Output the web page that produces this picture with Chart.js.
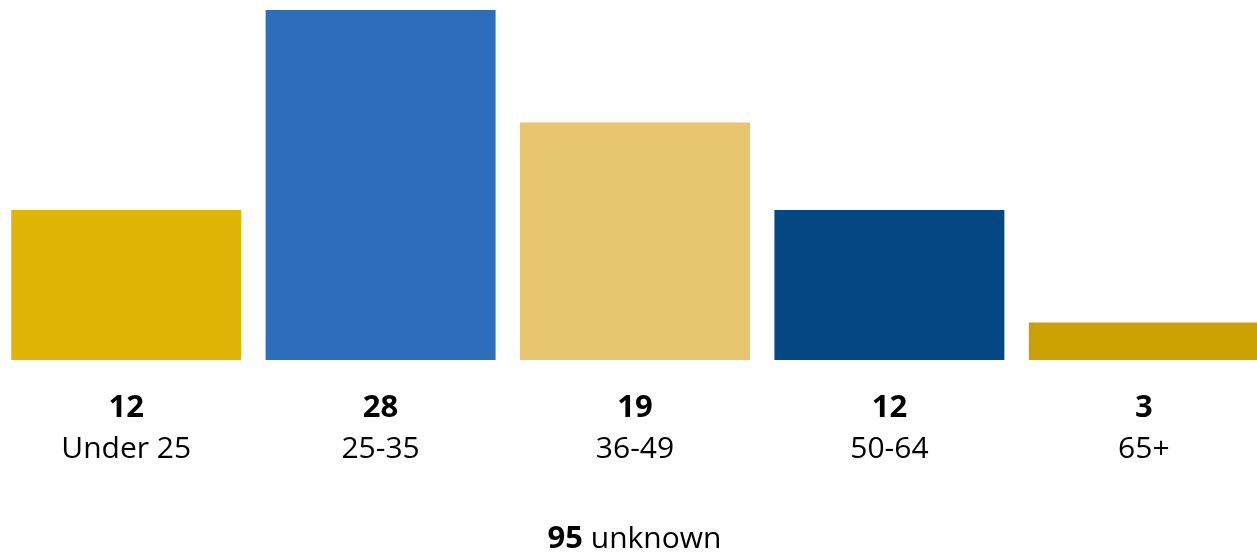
<!DOCTYPE html>
<html>
<head>
<meta charset="utf-8">
<script src="https://cdn.jsdelivr.net/npm/chart.js@4"></script>
<style>
  html, body { margin: 0; padding: 0; background: #fff; overflow: hidden; }
  #wrap { position: absolute; left: -1px; top: 0; width: 1272px; height: 554px; }
</style>
</head>
<body>
<div id="wrap"><canvas id="age-chart" width="1272" height="554"></canvas></div>
<script>
// Datos del gráfico
const categories = ['Under 25', '25-35', '36-49', '50-64', '65+'];
const counts = [12, 28, 19, 12, 3];
const barColors = ['#E0B506', '#2C6EBC', '#E8C670', '#034882', '#CBA001'];
const unknownCount = 95;
const unknownLabel = 'unknown';

const FONT = '"Open Sans", "Noto Sans", sans-serif';
const BOLD_FONT = 'bold 31px ' + FONT;
const NORMAL_FONT = '30px ' + FONT;

// Etiquetas debajo de las barras: valor en negrita y nombre de categoría
const labelsPlugin = {
    id: 'bottomLabels',
    afterDraw(chart) {
        const ctx = chart.ctx;
        const xScale = chart.scales.x;
        ctx.save();
        ctx.fillStyle = '#000';
        ctx.textAlign = 'center';
        ctx.textBaseline = 'alphabetic';
        categories.forEach((cat, i) => {
            const x = xScale.getPixelForValue(i);
            ctx.font = BOLD_FONT;
            ctx.fillText(String(counts[i]), x, 417);
            ctx.font = NORMAL_FONT;
            ctx.fillText(cat, x, 458);
        });

        // Pie: "95 unknown" con el número en negrita
        const boldTxt = String(unknownCount);
        const normTxt = ' ' + unknownLabel;
        ctx.font = BOLD_FONT;
        const wBold = ctx.measureText(boldTxt).width;
        ctx.font = NORMAL_FONT;
        const wNorm = ctx.measureText(normTxt).width;
        const cx = 635.5;
        const startX = cx - (wBold + wNorm) / 2;
        ctx.textAlign = 'left';
        ctx.font = BOLD_FONT;
        ctx.fillText(boldTxt, startX, 548);
        ctx.font = NORMAL_FONT;
        ctx.fillText(normTxt, startX + wBold, 548);
        ctx.restore();
    }
};

new Chart(document.getElementById('age-chart'), {
    type: 'bar',
    data: {
        labels: categories,
        datasets: [{
            data: counts,
            backgroundColor: barColors,
            borderWidth: 0,
            categoryPercentage: 1.0,
            barPercentage: 0.904
        }]
    },
    options: {
        responsive: false,
        animation: false,
        devicePixelRatio: 1,
        layout: { padding: { top: 10, bottom: 194, left: 0, right: 0 } },
        scales: {
            x: { display: false },
            y: { display: false, min: 0, max: 28 }
        },
        plugins: {
            legend: { display: false },
            tooltip: { enabled: false }
        }
    },
    plugins: [labelsPlugin]
});
</script>
</body>
</html>
